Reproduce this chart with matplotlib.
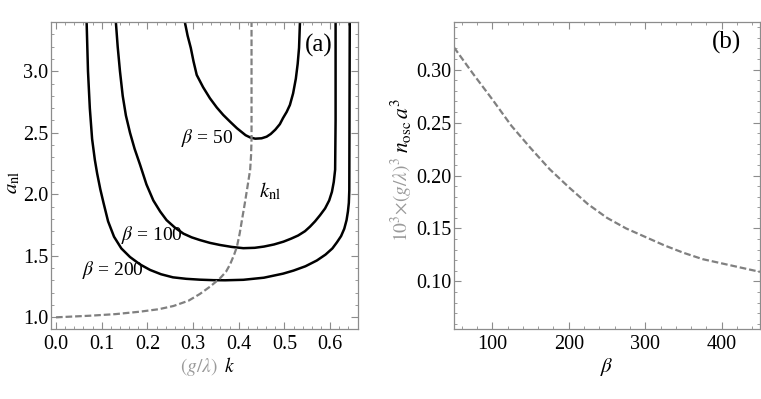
import matplotlib
matplotlib.use('Agg')
import matplotlib.pyplot as plt
from matplotlib.ticker import MultipleLocator

plt.rcParams['font.family'] = ['Liberation Serif', 'DejaVu Serif']
plt.rcParams['mathtext.fontset'] = 'stix'

# (a) contour curves a_nl vs (g/lambda) k for three beta values
k_b50 = [0.282, 0.288, 0.295, 0.301, 0.308, 0.322, 0.337, 0.352, 0.366, 0.381, 0.396, 0.405, 0.415, 0.425, 0.436, 0.450, 0.461, 0.470, 0.480, 0.490, 0.497, 0.505, 0.512, 0.519, 0.525, 0.529, 0.532, 0.534]
a_b50 = [3.40, 3.29, 3.19, 3.08, 2.97, 2.87, 2.78, 2.705, 2.645, 2.59, 2.537, 2.51, 2.48, 2.462, 2.452, 2.455, 2.468, 2.49, 2.525, 2.57, 2.62, 2.67, 2.726, 2.82, 2.94, 3.06, 3.19, 3.40]

k_b100 = [0.131, 0.135, 0.140, 0.146, 0.153, 0.162, 0.172, 0.184, 0.198, 0.213, 0.228, 0.242, 0.260, 0.279, 0.297, 0.315, 0.337, 0.359, 0.385, 0.410, 0.435, 0.455, 0.477, 0.498, 0.515, 0.530, 0.545, 0.556, 0.567, 0.578, 0.589, 0.598, 0.604, 0.608, 0.611, 0.612, 0.612]
a_b100 = [3.40, 3.20, 3.00, 2.80, 2.64, 2.50, 2.37, 2.24, 2.08, 1.95, 1.86, 1.79, 1.73, 1.68, 1.65, 1.628, 1.605, 1.588, 1.572, 1.562, 1.565, 1.575, 1.592, 1.615, 1.64, 1.665, 1.70, 1.737, 1.78, 1.83, 1.885, 1.95, 2.02, 2.10, 2.20, 2.60, 3.40]

k_b200 = [0.067, 0.070, 0.074, 0.079, 0.085, 0.090, 0.097, 0.104, 0.114, 0.127, 0.143, 0.162, 0.184, 0.206, 0.230, 0.256, 0.285, 0.315, 0.345, 0.370, 0.410, 0.455, 0.497, 0.520, 0.546, 0.571, 0.590, 0.605, 0.615, 0.624, 0.631, 0.636, 0.639, 0.641, 0.642, 0.643]
a_b200 = [3.40, 3.00, 2.70, 2.45, 2.28, 2.17, 2.04, 1.93, 1.78, 1.655, 1.56, 1.49, 1.43, 1.385, 1.35, 1.325, 1.313, 1.306, 1.302, 1.301, 1.305, 1.322, 1.355, 1.38, 1.415, 1.462, 1.51, 1.56, 1.61, 1.66, 1.72, 1.79, 1.86, 1.93, 2.03, 3.40]

# (a) k_nl dashed curve
k_nl = [0.0, 0.074, 0.130, 0.184, 0.225, 0.257, 0.290, 0.315, 0.337, 0.359, 0.372, 0.381, 0.390, 0.396, 0.402, 0.407, 0.413, 0.418, 0.425, 0.427, 0.428, 0.428]
a_nl = [1.0, 1.013, 1.026, 1.046, 1.066, 1.092, 1.135, 1.19, 1.249, 1.317, 1.37, 1.43, 1.51, 1.574, 1.68, 1.79, 1.92, 2.035, 2.20, 2.32, 2.45, 3.40]

# (b) 10^3 (g/lambda)^3 n_osc a^3 vs beta
beta = [50, 75, 100, 125, 150, 175, 200, 225, 250, 275, 300, 325, 350, 375, 400, 425, 450]
n_osc = [0.321, 0.296, 0.272, 0.247, 0.226, 0.206, 0.189, 0.173, 0.160, 0.150, 0.142, 0.134, 0.127, 0.121, 0.117, 0.113, 0.109]

frame_col = '#8c8c8c'
dash_col = '#808080'
label_gray = '#9a9a9a'

fig = plt.figure(figsize=(7.61, 3.99), dpi=100)
ax1 = fig.add_axes([0.067, 0.1754, 0.4034, 0.7694])
ax2 = fig.add_axes([0.5966, 0.1754, 0.4021, 0.7694])

for ax in (ax1, ax2):
    for sp in ax.spines.values():
        sp.set_color(frame_col)
        sp.set_linewidth(0.9)
    ax.tick_params(which='both', direction='in', top=True, right=True, color=frame_col, labelsize=14.5)
    ax.tick_params(which='major', length=5, width=0.8)
    ax.tick_params(which='minor', length=2.5, width=0.6)
    ax.tick_params(axis='x', pad=4)
    ax.tick_params(axis='y', pad=2)

# panel (a)
for kk, aa in [(k_b50, a_b50), (k_b100, a_b100), (k_b200, a_b200)]:
    ax1.plot(kk, aa, color='black', lw=1.8, solid_joinstyle='round')
ax1.plot(k_nl, a_nl, color=dash_col, lw=1.6, dashes=(3, 1.3))
ax1.set_xlim(-0.011, 0.661)
ax1.set_ylim(0.905, 3.40)
ax1.xaxis.set_major_locator(MultipleLocator(0.1))
ax1.xaxis.set_minor_locator(MultipleLocator(0.02))
ax1.yaxis.set_major_locator(MultipleLocator(0.5))
ax1.yaxis.set_minor_locator(MultipleLocator(0.1))
ax1.xaxis.set_major_formatter(lambda v, p: f'{v:.1f}')
ax1.yaxis.set_major_formatter(lambda v, p: f'{v:.1f}')

ax1.text(0.330, 2.458, r'$\beta$ = 50', fontsize=14, ha='center', va='center')
ax1.text(0.211, 1.669, r'$\beta$ = 100', fontsize=14, ha='center', va='center')
ax1.text(0.125, 1.385, r'$\beta$ = 200', fontsize=14, ha='center', va='center')
ax1.text(0.469, 2.02, r'$k_{\rm nl}$', fontsize=15, ha='center', va='center')
ax1.text(0.873, 0.925, '(a)', transform=ax1.transAxes, fontsize=18, ha='center', va='center')

# panel (b)
ax2.plot(beta, n_osc, color=dash_col, lw=1.6, dashes=(3, 1.3))
ax2.set_xlim(50, 450)
ax2.set_ylim(0.055, 0.345)
ax2.xaxis.set_major_locator(MultipleLocator(100))
ax2.xaxis.set_minor_locator(MultipleLocator(20))
ax2.yaxis.set_major_locator(MultipleLocator(0.05))
ax2.yaxis.set_minor_locator(MultipleLocator(0.01))
ax2.yaxis.set_major_formatter(lambda v, p: f'{v:.2f}')
ax2.text(0.892, 0.932, '(b)', transform=ax2.transAxes, fontsize=18, ha='center', va='center')

# axis labels
fig.text(0.287, 0.081, r'$(g/\lambda)$', fontsize=14, color=label_gray, ha='right', va='center')
fig.text(0.289, 0.081, r'$\ k$', fontsize=14, color='black', ha='left', va='center')
fig.text(0.017, 0.544, r'$a_{\rm nl}$', fontsize=15, rotation=90, ha='center', va='center')

fig.text(0.797, 0.081, r'$\beta$', fontsize=15, ha='center', va='center')
fig.text(0.528, 0.607, r'$10^3{\times}(g/\lambda)^3$', fontsize=14, color=label_gray,
         rotation=90, rotation_mode='anchor', ha='right', va='center')
fig.text(0.528, 0.617, r'$n_{\rm osc}\, a^3$', fontsize=15.5, color='black',
         rotation=90, rotation_mode='anchor', ha='left', va='center')

fig.savefig('out.png', dpi=100)
